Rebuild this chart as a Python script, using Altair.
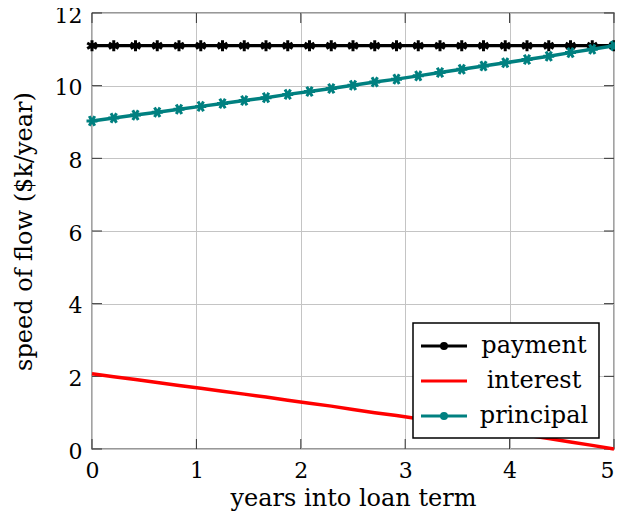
import altair as alt
import pandas as pd

# ---- data ----
years = [0, 0.2083, 0.4167, 0.625, 0.8333, 1.0417, 1.25, 1.4583, 1.6667, 1.875,
         2.0833, 2.2917, 2.5, 2.7083, 2.9167, 3.125, 3.3333, 3.5417, 3.75, 3.9583,
         4.1667, 4.375, 4.5833, 4.7917, 5]
payment = [11.1, 11.1, 11.1, 11.1, 11.1, 11.1, 11.1, 11.1, 11.1, 11.1,
           11.1, 11.1, 11.1, 11.1, 11.1, 11.1, 11.1, 11.1, 11.1, 11.1,
           11.1, 11.1, 11.1, 11.1, 11.1]
interest = [2.07, 1.99, 1.91, 1.83, 1.75, 1.67, 1.59, 1.51, 1.43, 1.34,
            1.26, 1.18, 1.09, 1.00, 0.92, 0.83, 0.74, 0.65, 0.56, 0.47,
            0.38, 0.29, 0.19, 0.10, 0.0]
principal = [9.03, 9.11, 9.19, 9.27, 9.35, 9.43, 9.51, 9.59, 9.67, 9.76,
             9.84, 9.92, 10.01, 10.10, 10.18, 10.27, 10.36, 10.45, 10.54, 10.63,
             10.72, 10.81, 10.91, 11.00, 11.10]
series_names = ["payment", "interest", "principal"]
series_colors = ["#000000", "#ff0000", "#008080"]
x_ticks = [0, 1, 2, 3, 4, 5]
y_ticks = [0, 2, 4, 6, 8, 10, 12]

rows = []
for name, vals in zip(series_names, [payment, interest, principal]):
    for t, v in zip(years, vals):
        rows.append({"t": t, "v": v, "series": name})
df = pd.DataFrame(rows)
xt_df = pd.DataFrame({"t": x_ticks})
yt_df = pd.DataFrame({"v": y_ticks})

W, H = 522, 436
FONT = "DejaVu Serif"
TICK = 10
FRAME = "#333333"

LINE_DOT = "M-2,0L2,0M-0.22,0A0.22,0.22,0,1,0,0.22,0A0.22,0.22,0,1,0,-0.22,0Z"
LINE_ONLY = "M-2,0L2,0"
AST_V = "M0,-1L0,1M-0.87,-0.5L0.87,0.5M-0.87,0.5L0.87,-0.5"
AST_H = "M-1,0L1,0M-0.5,-0.87L0.5,0.87M-0.5,0.87L0.5,-0.87"

xs = alt.Scale(domain=[0, 5], nice=False, zero=False)
ys = alt.Scale(domain=[0, 12], nice=False, zero=False)

x_enc = alt.X("t:Q", scale=xs, axis=alt.Axis(
    values=x_ticks, format="d", title="years into loan term", labelPadding=11,
    labelFlush=False, labelOverlap=False,
    labelAlign={"condition": {"test": "datum.value >= 5", "value": "right"}, "value": "center"},
    titleX=W / 2, titleY=56, titleAlign="center", titleBaseline="alphabetic"))
y_enc = alt.Y("v:Q", scale=ys, axis=alt.Axis(
    values=y_ticks, format="d", title="speed of flow ($k/year)", labelPadding=10,
    labelFlush=False, labelOverlap=False, labelOffset=2,
    titleX=-56, titleY=H / 2, titleAlign="center", titleBaseline="bottom"))

base = alt.Chart(df)

def sel(name):
    return base.transform_filter(alt.datum.series == name)

pay_line = sel("payment").mark_line(color="#000000", strokeWidth=3.2).encode(x=x_enc, y=y_enc)
pay_pts = sel("payment").mark_point(shape=AST_V, filled=False, color="#000000",
                                    strokeWidth=3, size=121, opacity=1).encode(x="t:Q", y="v:Q")
int_line = sel("interest").mark_line(color="#ff0000", strokeWidth=3.5).encode(x="t:Q", y="v:Q")
pr_line = sel("principal").mark_line(color="#008080", strokeWidth=3.5).encode(x="t:Q", y="v:Q")
pr_pts = sel("principal").mark_point(shape=AST_H, filled=False, color="#008080",
                                     strokeWidth=3, size=121, opacity=1).encode(x="t:Q", y="v:Q")

leg = dict(orient="none", legendX=321, legendY=310, title=None, direction="vertical",
           fillColor="white", strokeColor="#000000", padding=10, rowPadding=10,
           symbolSize=529, symbolStrokeWidth=3, symbolOpacity=1, symbolOffset=8,
           labelFont=FONT, labelFontSize=24, labelColor="#000000",
           labelAlign="center", labelOffset=77,
           cornerRadius=0)
legend_layer = base.transform_filter("false").mark_point(filled=False, strokeWidth=3, opacity=1).encode(
    x="t:Q", y="v:Q",
    color=alt.Color("series:N", scale=alt.Scale(domain=series_names, range=series_colors),
                    legend=alt.Legend(**leg)),
    shape=alt.Shape("series:N", scale=alt.Scale(domain=series_names,
                                                range=[LINE_DOT, LINE_ONLY, LINE_DOT]),
                    legend=alt.Legend(**leg)),
)

tick_bottom = alt.Chart(xt_df).mark_rule(color=FRAME, strokeWidth=1).encode(
    x="t:Q", y=alt.value(H), y2=alt.value(H - TICK))
tick_top = alt.Chart(xt_df).mark_rule(color=FRAME, strokeWidth=1).encode(
    x="t:Q", y=alt.value(0), y2=alt.value(TICK))
tick_left = alt.Chart(yt_df).mark_rule(color=FRAME, strokeWidth=1).encode(
    y="v:Q", x=alt.value(0), x2=alt.value(TICK))
tick_right = alt.Chart(yt_df).mark_rule(color=FRAME, strokeWidth=1).encode(
    y="v:Q", x=alt.value(W), x2=alt.value(W - TICK))

chart = alt.layer(
    pay_line, tick_bottom, tick_top, tick_left, tick_right,
    pay_pts, int_line, pr_line, pr_pts, legend_layer
).properties(
    width=W, height=H,
    padding={"left": 84, "top": 5, "right": 1, "bottom": 62},
    autosize=alt.AutoSizeParams(type="none"),
).configure_view(
    stroke=FRAME, strokeWidth=1.3
).configure_axis(
    domain=False, ticks=False, grid=True, gridColor="#c4c4c4", gridWidth=1,
    labelFont=FONT, labelFontSize=22, labelColor="#000000",
    titleFont=FONT, titleFontSize=24, titleFontWeight="normal", titleColor="#000000",
).configure_legend(
    strokeWidth=1.5
)

chart.save("out.html", embed_options={"renderer": "svg", "actions": False})
